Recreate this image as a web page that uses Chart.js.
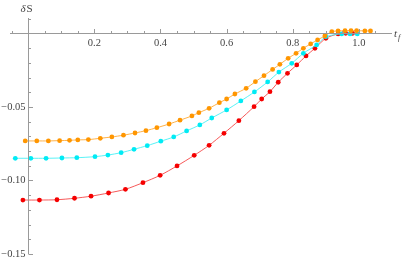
<!DOCTYPE html>
<html>
<head>
<meta charset="utf-8">
<script src="https://cdn.jsdelivr.net/npm/chart.js@4"></script>
<style>
  html, body { margin: 0; padding: 0; background: #fff; }
  #wrap { width: 409px; height: 260px; }
</style>
</head>
<body>
<div id="wrap"><canvas id="chart"></canvas></div>
<script>
// values (t_f, deltaS)
const orangeT = [-0.009, 0.026, 0.061, 0.095, 0.125, 0.150, 0.182, 0.218, 0.253, 0.288, 0.323, 0.356, 0.389, 0.426, 0.459, 0.495, 0.516, 0.547, 0.578, 0.600, 0.625, 0.659, 0.687, 0.713, 0.739, 0.761, 0.786, 0.810, 0.832, 0.854, 0.875, 0.897, 0.918, 0.937, 0.958, 0.976, 0.993, 1.018, 1.035];
const orangeS = [-0.0731, -0.0731, -0.0731, -0.0729, -0.0727, -0.0724, -0.0722, -0.0713, -0.0704, -0.0692, -0.0677, -0.0661, -0.0641, -0.0616, -0.0590, -0.0561, -0.0539, -0.0509, -0.0471, -0.0446, -0.0412, -0.0373, -0.0328, -0.0287, -0.0245, -0.0210, -0.0169, -0.0135, -0.0101, -0.0071, -0.0044, -0.0017, 0.0012, 0.0017, 0.0019, 0.0019, 0.0019, 0.0017, 0.0017];

const cyanT = [-0.039, 0.008, 0.054, 0.102, 0.147, 0.202, 0.241, 0.281, 0.320, 0.360, 0.401, 0.440, 0.479, 0.519, 0.555, 0.600, 0.643, 0.684, 0.724, 0.758, 0.797, 0.832, 0.872, 0.900, 0.948, 0.973, 0.995];
const cyanS = [-0.0849, -0.0849, -0.0849, -0.0847, -0.0845, -0.0838, -0.0827, -0.0811, -0.0788, -0.0763, -0.0733, -0.0704, -0.0663, -0.0622, -0.0575, -0.0520, -0.0459, -0.0398, -0.0330, -0.0263, -0.0203, -0.0135, -0.0078, -0.0022, -0.0003, -0.0003, -0.0003];

const redT = [-0.016, 0.034, 0.087, 0.140, 0.190, 0.243, 0.294, 0.347, 0.399, 0.450, 0.502, 0.547, 0.592, 0.637, 0.683, 0.706, 0.731, 0.756, 0.784, 0.812, 0.840, 0.867, 0.900, 0.937, 0.960, 0.981];
const redS = [-0.1133, -0.1133, -0.1131, -0.1121, -0.1107, -0.1085, -0.1060, -0.1015, -0.0965, -0.0901, -0.0829, -0.0761, -0.0679, -0.0593, -0.0498, -0.0446, -0.0396, -0.0332, -0.0271, -0.0214, -0.0153, -0.0101, -0.0033, -0.0003, 0.0001, 0.0001];

// tick labels and tick marks
const xTicks = [0.2, 0.4, 0.6, 0.8, 1.0];
const xTickLabels = ['0.2', '0.4', '0.6', '0.8', '1.0'];
const xMinorTicks = [-0.05, 0.05, 0.1, 0.15, 0.25, 0.3, 0.35, 0.45, 0.5, 0.55, 0.65, 0.7, 0.75, 0.85, 0.9, 0.95, 1.05];
const yTicks = [-0.05, -0.10, -0.15];
const yTickLabels = ['\u22120.05', '\u22120.10', '\u22120.15'];
const yMinorTicks = [0.01, -0.01, -0.02, -0.03, -0.04, -0.06, -0.07, -0.08, -0.09, -0.11, -0.12, -0.13, -0.14];

const AXIS_COLOR = '#9a9a9a';
const TEXT_COLOR = '#444';
const SERIF = '"Liberation Serif", "DejaVu Serif", serif';

function pts(ts, ss) {
    return ts.map((t, i) => ({ x: t, y: ss[i] }));
}

function series(ts, ss, color, lineColor) {
    return {
        data: pts(ts, ss),
        showLine: true,
        borderColor: lineColor,
        borderWidth: 1,
        backgroundColor: color,
        pointBackgroundColor: color,
        pointBorderWidth: 0,
        pointRadius: 2.4,
        tension: 0.25
    };
}

// Mathematica-style axes: inward tick marks, labels, axis names
const axisDecor = {
    id: 'axisDecor',
    afterDraw(chart) {
        const { ctx, scales: { x, y } } = chart;
        const x0 = Math.round(x.getPixelForValue(0)) + 0.5;
        const y0 = Math.round(y.getPixelForValue(0)) + 0.5;
        ctx.save();
        ctx.strokeStyle = AXIS_COLOR;
        ctx.lineWidth = 1;
        ctx.beginPath();
        // axis lines
        ctx.moveTo(x.left, y0); ctx.lineTo(x.right, y0);
        ctx.moveTo(x0, y.top); ctx.lineTo(x0, y.bottom);
        xTicks.forEach(v => {
            const px = Math.round(x.getPixelForValue(v)) + 0.5;
            ctx.moveTo(px, y0); ctx.lineTo(px, y0 - 4.5);
        });
        xMinorTicks.forEach(v => {
            const px = Math.round(x.getPixelForValue(v)) + 0.5;
            ctx.moveTo(px, y0); ctx.lineTo(px, y0 - 2.5);
        });
        yTicks.forEach(v => {
            const py = Math.round(y.getPixelForValue(v)) + 0.5;
            ctx.moveTo(x0, py); ctx.lineTo(x0 + 4.5, py);
        });
        yMinorTicks.forEach(v => {
            const py = Math.round(y.getPixelForValue(v)) + 0.5;
            ctx.moveTo(x0, py); ctx.lineTo(x0 + 2.5, py);
        });
        ctx.stroke();

        ctx.fillStyle = TEXT_COLOR;
        ctx.font = '10.5px ' + SERIF;
        ctx.textAlign = 'center';
        ctx.textBaseline = 'top';
        xTicks.forEach((v, i) => ctx.fillText(xTickLabels[i], x.getPixelForValue(v), y0 + 4));
        ctx.textAlign = 'right';
        ctx.textBaseline = 'middle';
        yTicks.forEach((v, i) => ctx.fillText(yTickLabels[i], x0 - 3, y.getPixelForValue(v)));

        // axis names
        ctx.textAlign = 'left';
        ctx.textBaseline = 'alphabetic';
        ctx.font = 'italic 11px ' + SERIF;
        ctx.fillText('δ', x0 - 8, 12);
        ctx.font = '11px ' + SERIF;
        ctx.fillText('S', x0 - 2, 12);
        ctx.font = 'italic 11px ' + SERIF;
        ctx.fillText('t', x.right + 2, y0 + 3);
        ctx.font = 'italic 8px ' + SERIF;
        ctx.fillText('f', x.right + 6, y0 + 6);
        ctx.restore();
    }
};

new Chart(document.getElementById('chart'), {
    type: 'scatter',
    data: {
        datasets: [
            series(orangeT, orangeS, 'rgb(255,150,0)', 'rgba(255,165,40,0.85)'),
            series(cyanT, cyanS, 'rgb(0,235,245)', 'rgba(60,240,245,0.85)'),
            series(redT, redS, 'rgb(245,0,0)', 'rgba(245,60,60,0.85)')
        ]
    },
    options: {
        responsive: true,
        maintainAspectRatio: false,
        animation: false,
        layout: { padding: { left: 10, right: 17, top: 18, bottom: 6 } },
        plugins: { legend: { display: false }, tooltip: { enabled: false } },
        scales: {
            x: {
                type: 'linear',
                position: { y: 0 },
                min: -0.055,
                max: 1.1,
                grid: { display: false, drawTicks: false },
                border: { display: false },
                ticks: { display: false }
            },
            y: {
                type: 'linear',
                position: { x: 0 },
                min: -0.15,
                max: 0.0105,
                grid: { display: false, drawTicks: false },
                border: { display: false },
                ticks: { display: false }
            }
        }
    },
    plugins: [axisDecor]
});
</script>
</body>
</html>
